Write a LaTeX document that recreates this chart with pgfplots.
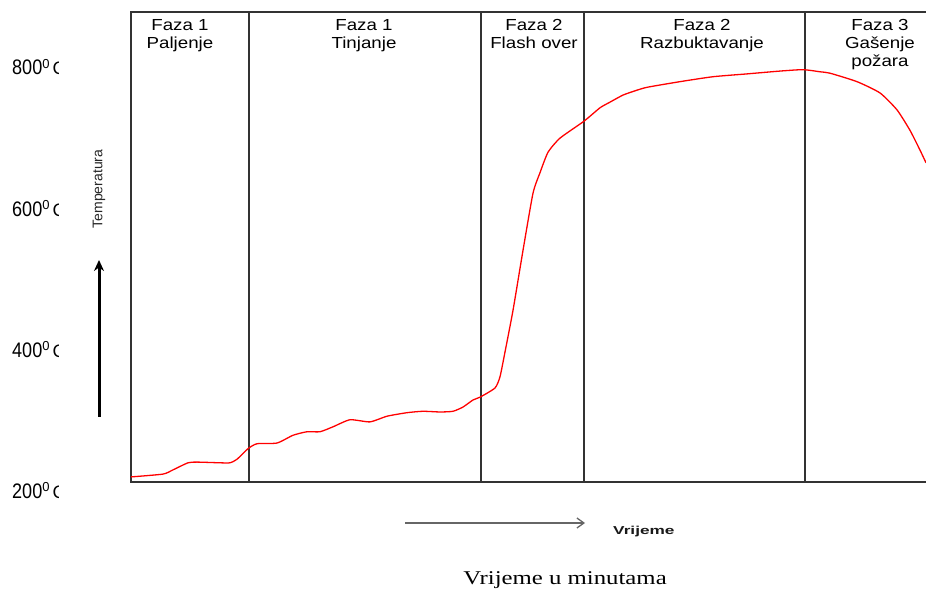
\documentclass[border=0pt]{standalone}
\usepackage{pgfplots}
\pgfplotsset{compat=1.18}
\usepackage{fontspec}
\setmainfont{Liberation Sans}
\newfontfamily\timesfont{Liberation Serif}
\usetikzlibrary{arrows.meta}
\usepackage{graphicx}
\newcommand\phase[1]{\scalebox{1.17}[1]{\fontsize{16}{16}\selectfont #1}}
\newcommand\ylab[1]{{\fontsize{21}{21}\selectfont\scalebox{0.86}[1]{#1}}\raisebox{6.7pt}{\fontsize{13}{13}\selectfont 0}\kern3pt{\fontsize{18}{18}\selectfont C}}
\tikzset{frame/.style={draw=black!80, line width=1.6pt}}
\begin{document}
\begin{tikzpicture}
\begin{axis}[at={(0pt,0pt)}, anchor=south west,
  width=795pt, height=470pt, scale only axis,
  xmin=0, xmax=795, ymin=212.8, ymax=878.7,
  hide axis, clip=false]
% frame (left, top, bottom; right side open)
\draw[frame] (rel axis cs:1,0) -- (rel axis cs:0,0) -- (rel axis cs:0,1) -- (rel axis cs:1,1);
% phase boundaries
\addplot[frame] coordinates {(118,212.8) (118,878.7)};
\addplot[frame] coordinates {(350,212.8) (350,878.7)};
\addplot[frame] coordinates {(453,212.8) (453,878.7)};
\addplot[frame] coordinates {(674,212.8) (674,878.7)};
% temperature curve
\addplot[red, line width=1.3pt, smooth, tension=0.35] coordinates {
(0,220) (32,224) (42,230) (57,240) (66,241) (89,240) (99,240) (106,245)
(117,260) (126,267) (146,268) (162,279) (176,284) (189,284) (202,291)
(219,301) (239,298) (256,306) (276,311) (292,313) (309,312) (322,313)
(332,319) (342,329) (349,333) (364,346) (369,362) (374,397) (382,456)
(392,541) (402,622) (409,651) (417,680) (429,700) (453,724) (469,743)
(479,751) (492,761) (504,767) (516,772) (549,780) (582,787) (616,791)
(649,795) (672,797) (689,794) (699,792) (726,780) (749,764) (766,740)
(779,711) (789,683) (795,665)};
\end{axis}
% phase labels
\node[anchor=base, inner sep=0] at (49pt,451pt) {\phase{Faza 1}};
\node[anchor=base, inner sep=0] at (49pt,433pt) {\phase{Paljenje}};
\node[anchor=base, inner sep=0] at (233pt,451pt) {\phase{Faza 1}};
\node[anchor=base, inner sep=0] at (233pt,433pt) {\phase{Tinjanje}};
\node[anchor=base, inner sep=0] at (403pt,451pt) {\phase{Faza 2}};
\node[anchor=base, inner sep=0] at (403pt,433pt) {\phase{Flash over}};
\node[anchor=base, inner sep=0] at (571pt,451pt) {\phase{Faza 2}};
\node[anchor=base, inner sep=0] at (571pt,433pt) {\phase{Razbuktavanje}};
\node[anchor=base, inner sep=0] at (749pt,451pt) {\phase{Faza 3}};
\node[anchor=base, inner sep=0] at (749pt,433pt) {\phase{Gašenje}};
\node[anchor=base, inner sep=0] at (749pt,415pt) {\phase{požara}};
% y labels (clipped like the original)
\begin{scope}
\clip (-131pt,-107pt) rectangle (-72.5pt,482pt);
\node[anchor=base west, inner sep=0] at (-119pt,407pt) {\ylab{800}};
\node[anchor=base west, inner sep=0] at (-119pt,265.9pt) {\ylab{600}};
\node[anchor=base west, inner sep=0] at (-119pt,124.8pt) {\ylab{400}};
\node[anchor=base west, inner sep=0] at (-119pt,-16.3pt) {\ylab{200}};
\end{scope}
% Temperatura label and arrow
\node[rotate=90, inner sep=0, text=black!85] at (-32pt,293pt) {\fontsize{14}{14}\selectfont Temperatura};
\draw[line width=3pt, -{Stealth[length=11pt,width=10pt]}] (-32pt,65pt) -- (-32pt,222pt);
% Vrijeme arrow and label
\draw[black!60, line width=1.3pt, -{Straight Barb[length=7pt,width=10pt]}] (274pt,-41pt) -- (454pt,-41pt);
\node[anchor=base west, inner sep=0, text=black!90] at (482pt,-52pt) {\scalebox{1.5}[1]{\fontsize{11.5}{11.5}\selectfont\bfseries Vrijeme}};
\node[anchor=base, inner sep=0] at (434pt,-102.5pt) {\scalebox{1.27}[1]{\timesfont\fontsize{19.5}{19.5}\selectfont Vrijeme u minutama}};
\pgfresetboundingbox
\useasboundingbox (-131pt,-107pt) rectangle (795pt,482pt);
\end{tikzpicture}
\end{document}
